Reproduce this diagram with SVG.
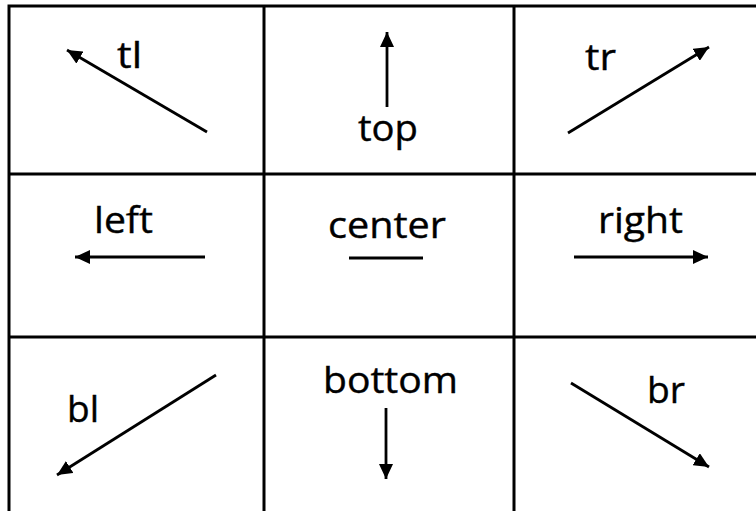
<svg xmlns="http://www.w3.org/2000/svg" width="756" height="511" viewBox="0 0 756 511">
  <style>
    .grid { fill: none; stroke: #000; stroke-width: 3; }
    .lbl { font-family: "Open Sans", "Noto Sans", "Liberation Sans", sans-serif; font-size: 36px; fill: #000; stroke: #000; stroke-width: 0.4; }
    .arr { stroke: #000; stroke-width: 2.8; fill: none; marker-end: url(#ah); }
    .plain { stroke: #000; stroke-width: 2.8; fill: none; }
  </style>
  <defs>
    <marker id="ah" markerUnits="userSpaceOnUse" markerWidth="16" markerHeight="14" refX="15" refY="7" orient="auto">
      <path d="M0,0 L15,7 L0,14 z" fill="#000"/>
    </marker>
  </defs>
  <rect width="756" height="511" fill="#fff"/>
  <g id="grid" class="grid">
    <path d="M9,520 V6 H770"/>
    <path d="M264,6 V520 M514,6 V520"/>
    <path d="M9,174 H770 M9,337 H770"/>
  </g>
  <g id="cell-tl"><text class="lbl" x="117" y="68" textLength="25" lengthAdjust="spacingAndGlyphs">tl</text></g>
  <g id="cell-top"><text class="lbl" x="358" y="141" textLength="60" lengthAdjust="spacingAndGlyphs">top</text></g>
  <g id="cell-tr"><text class="lbl" x="585" y="70" textLength="31" lengthAdjust="spacingAndGlyphs">tr</text></g>
  <g id="cell-left"><text class="lbl" x="94" y="233" textLength="59" lengthAdjust="spacingAndGlyphs">left</text></g>
  <g id="cell-center"><text class="lbl" x="328" y="238" textLength="118" lengthAdjust="spacingAndGlyphs">center</text></g>
  <g id="cell-right"><text class="lbl" x="598" y="233" textLength="85" lengthAdjust="spacingAndGlyphs">right</text></g>
  <g id="cell-bl"><text class="lbl" x="67" y="422" textLength="32" lengthAdjust="spacingAndGlyphs">bl</text></g>
  <g id="cell-bottom"><text class="lbl" x="323" y="393" textLength="135" lengthAdjust="spacingAndGlyphs">bottom</text></g>
  <g id="cell-br"><text class="lbl" x="647" y="403" textLength="38" lengthAdjust="spacingAndGlyphs">br</text></g>
  <g id="connectors">
    <line class="arr" x1="207" y1="132" x2="67" y2="50"/>
    <line class="arr" x1="387" y1="107" x2="387" y2="32"/>
    <line class="arr" x1="568" y1="133" x2="709" y2="47"/>
    <line class="arr" x1="205" y1="257" x2="75" y2="257"/>
    <line class="plain" x1="349" y1="258" x2="423" y2="258"/>
    <line class="arr" x1="574" y1="257" x2="708" y2="257"/>
    <line class="arr" x1="216" y1="375" x2="57" y2="475"/>
    <line class="arr" x1="386" y1="408" x2="386" y2="479"/>
    <line class="arr" x1="571" y1="383" x2="709" y2="467"/>
  </g>
</svg>
